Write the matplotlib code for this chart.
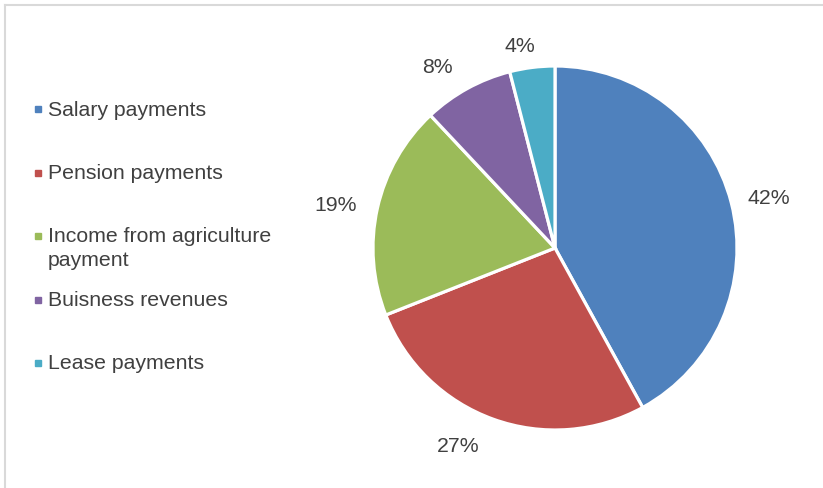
import numpy as np
import matplotlib
matplotlib.use("Agg")
import matplotlib.pyplot as plt
from matplotlib.lines import Line2D
from matplotlib.patches import Rectangle

categories = ["Salary payments", "Pension payments",
              "Income from agriculture\npayment", "Buisness revenues",
              "Lease payments"]
shares = [42, 27, 19, 8, 4]
colors = ["#4F81BD", "#C0504D", "#9BBB59", "#8064A2", "#4BACC6"]

plt.rcParams["font.family"] = ["Liberation Sans", "DejaVu Sans"]
TEXT = "#404040"
FS = 15.3
CAP_HALF = 7.5   # half the cap height of the label font, px
LINE_STEP = 23   # distance between wrapped legend lines, px

W, H = 823, 488
fig = plt.figure(figsize=(W / 100, H / 100), dpi=100)

# pie axes: centre (555, 248) px, radius 182 px
cx, cy, r = 555, 248, 182
ax = fig.add_axes([(cx - r) / W, (H - cy - r) / H, 2 * r / W, 2 * r / H])
wedges, _ = ax.pie(shares, colors=colors, startangle=90, counterclock=False,
                   wedgeprops=dict(edgecolor="white", linewidth=2.3))
ax.set_xlim(-1, 1)
ax.set_ylim(-1, 1)
ax.set_aspect("equal")
ax.axis("off")

# percentage labels outside the slices (radius factor, angular nudge in deg)
label_dist = [1.209, 1.202, 1.228, 1.194, 1.132]
label_nudge = [-0.9, -6.5, 1.1, 4.1, 2.6]
for w, v, d, n in zip(wedges, shares, label_dist, label_nudge):
    mid = np.deg2rad((w.theta1 + w.theta2) / 2 + n)
    ax.text(d * np.cos(mid), d * np.sin(mid) - CAP_HALF / r, f"{v}%",
            ha="center", va="baseline", fontsize=FS, color=TEXT,
            clip_on=False)

# legend on the left (y = vertical centre of each entry's first line, px)
legend_y = [108, 171.5, 235, 299, 361.5]
for name, c, y in zip(categories, colors, legend_y):
    fig.patches.append(Rectangle((35 / W, 1 - (y + 4) / H), 6 / W, 6 / H,
                                 transform=fig.transFigure, color=c))
    lines = name.split("\n")
    for i, line in enumerate(lines):
        fig.text(48 / W, 1 - (y + CAP_HALF + i * LINE_STEP) / H, line,
                 ha="left", va="baseline", fontsize=FS, color=TEXT)

# frame lines along the top and left edges
fig.add_artist(Line2D([4.5 / W, 1], [1 - 4.5 / H, 1 - 4.5 / H],
                      transform=fig.transFigure, color="#D9D9D9", lw=1.5))
fig.add_artist(Line2D([4.5 / W, 4.5 / W], [0, 1 - 4.5 / H],
                      transform=fig.transFigure, color="#D9D9D9", lw=1.5))

fig.savefig("out.png", dpi=100, facecolor="white")
